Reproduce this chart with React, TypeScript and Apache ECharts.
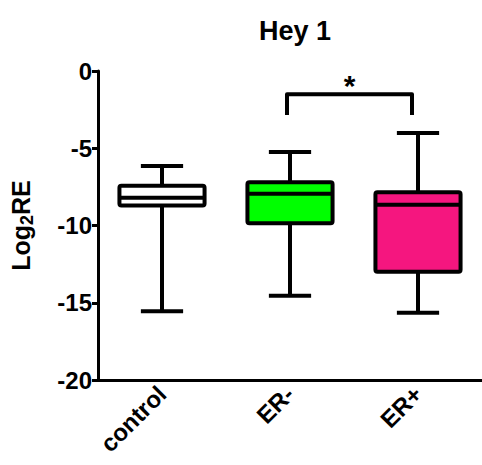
import React, { useEffect, useRef } from "react";
import * as echarts from "echarts";

const categories = ["control", "ER-", "ER+"];
const whiskerLow = [-15.55, -14.55, -15.65];
const q1 = [-8.7, -9.85, -13.0];
const median = [-8.2, -7.95, -8.65];
const q3 = [-7.42, -7.2, -7.85];
const whiskerHigh = [-6.15, -5.25, -4.02];
const yTicks = [0, -5, -10, -15, -20];
const boxColors = ["#FFFFFF", "#00FF00", "#F5167F"];
// significance bracket: [fromIndex, toIndex, top value, leg bottom value]
const bracket = [[1, 2, -1.5, -2.85]];
const bracketLabel = "*";

const FONT = "'Liberation Sans', Arial, sans-serif";

export default function App() {
  const ref = useRef<HTMLDivElement>(null);
  useEffect(() => {
    if (!ref.current) return;
    const chart = echarts.init(ref.current, undefined, { renderer: "svg" });
    const boxData = categories.map((_, i) => [
      i,
      whiskerLow[i],
      q1[i],
      median[i],
      q3[i],
      whiskerHigh[i],
    ]);
    chart.setOption({
      animation: false,
      backgroundColor: "#fff",
      title: {
        text: "Hey 1",
        left: 290,
        top: 12,
        textAlign: "center",
        textStyle: {
          fontFamily: FONT,
          fontWeight: "bold",
          fontSize: 27,
          color: "#000",
        },
      },
      grid: { left: 98, right: 0, top: 71, bottom: 85 },
      xAxis: {
        type: "category",
        data: categories,
        boundaryGap: true,
        axisLine: { onZero: false, lineStyle: { color: "#000", width: 3 } },
        axisTick: {
          alignWithLabel: true,
          length: 6,
          lineStyle: { color: "#000", width: 3 },
        },
        axisLabel: {
          rotate: 45,
          margin: 10,
          color: "#000",
          fontFamily: FONT,
          fontWeight: "bold",
          fontSize: 24,
        },
        splitLine: { show: false },
      },
      yAxis: {
        type: "value",
        min: -20,
        max: 0,
        interval: 5,
        name: "{a|Log}{b|2}{a|RE}",
        nameLocation: "middle",
        nameRotate: 90,
        nameGap: 62,
        nameTextStyle: {
          rich: {
            a: {
              fontFamily: FONT,
              fontWeight: "bold",
              fontSize: 25,
              color: "#000",
            },
            b: {
              fontFamily: FONT,
              fontWeight: "bold",
              fontSize: 18,
              color: "#000",
              verticalAlign: "bottom",
              padding: [12, 0, 0, 0],
            },
          },
        },
        axisLine: { show: true, lineStyle: { color: "#000", width: 3 } },
        axisTick: {
          show: true,
          length: 6,
          lineStyle: { color: "#000", width: 3 },
        },
        axisLabel: {
          margin: 6,
          color: "#000",
          fontFamily: FONT,
          fontWeight: "bold",
          fontSize: 24,
          formatter: (v: number) => (yTicks.includes(v) ? String(v) : ""),
        },
        splitLine: { show: false },
      },
      series: [
        {
          type: "custom",
          data: boxData,
          encode: { x: 0, y: [1, 2, 3, 4, 5] },
          renderItem: (params: any, api: any) => {
            const idx = api.value(0);
            const pLow = api.coord([idx, api.value(1)]);
            const pQ1 = api.coord([idx, api.value(2)]);
            const pMed = api.coord([idx, api.value(3)]);
            const pQ3 = api.coord([idx, api.value(4)]);
            const pHigh = api.coord([idx, api.value(5)]);
            const band = api.size([1, 0])[0];
            const boxW = band * 0.665;
            const capW = band * 0.33;
            const x = pLow[0];
            const ls = { stroke: "#000", lineWidth: 4, lineCap: "butt" };
            return {
              type: "group",
              children: [
                { type: "line", shape: { x1: x, y1: pHigh[1], x2: x, y2: pQ3[1] }, style: ls },
                { type: "line", shape: { x1: x, y1: pQ1[1], x2: x, y2: pLow[1] }, style: ls },
                { type: "line", shape: { x1: x - capW / 2, y1: pHigh[1], x2: x + capW / 2, y2: pHigh[1] }, style: ls },
                { type: "line", shape: { x1: x - capW / 2, y1: pLow[1], x2: x + capW / 2, y2: pLow[1] }, style: ls },
                {
                  type: "rect",
                  shape: { x: x - boxW / 2, y: pQ3[1], width: boxW, height: pQ1[1] - pQ3[1], r: 2 },
                  style: { fill: boxColors[idx], stroke: "#000", lineWidth: 4, lineJoin: "round" },
                },
                { type: "line", shape: { x1: x - boxW / 2, y1: pMed[1], x2: x + boxW / 2, y2: pMed[1] }, style: ls },
              ],
            };
          },
        },
        {
          type: "custom",
          data: bracket,
          encode: { x: [0, 1], y: [2, 3] },
          renderItem: (params: any, api: any) => {
            const a = api.coord([api.value(0), api.value(2)]);
            const b = api.coord([api.value(1), api.value(2)]);
            const aBot = api.coord([api.value(0), api.value(3)]);
            const xl = a[0] - 3;
            const xr = b[0] - 6;
            return {
              type: "group",
              children: [
                {
                  type: "polyline",
                  shape: {
                    points: [
                      [xl, aBot[1]],
                      [xl, a[1]],
                      [xr, a[1]],
                      [xr, aBot[1]],
                    ],
                  },
                  style: { stroke: "#000", lineWidth: 4, fill: "none", lineJoin: "round" },
                },
                {
                  type: "text",
                  x: (xl + xr) / 2,
                  y: a[1] + 6,
                  style: {
                    text: bracketLabel,
                    fontFamily: FONT,
                    fontWeight: "bold",
                    fontSize: 30,
                    fill: "#000",
                    align: "center",
                    verticalAlign: "bottom",
                  },
                },
              ],
            };
          },
        },
      ],
    });
    return () => chart.dispose();
  }, []);
  return <div ref={ref} style={{ width: 482, height: 465, position: "absolute", left: 0, top: 0 }} />;
}
